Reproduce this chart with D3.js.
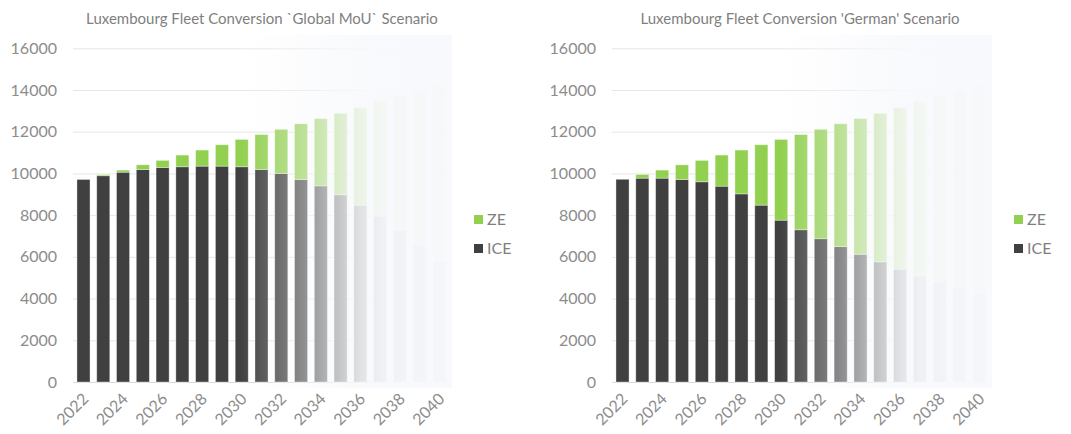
<!DOCTYPE html>
<html>
<head>
<meta charset="utf-8">
<script src="https://cdn.jsdelivr.net/npm/d3@7"></script>
<style>
  body { margin: 0; background: #fff; }
  svg { display: block; font-family: Lato, "Open Sans", sans-serif; }
</style>
</head>
<body>
<svg id="chart" width="1071" height="434"></svg>
<script>
// years and tick labels
const years = d3.range(2022, 2041).map(String);
const yearLabels = ['2022', '2024', '2026', '2028', '2030', '2032', '2034', '2036', '2038', '2040'];
const yTicks = [0, 2000, 4000, 6000, 8000, 10000, 12000, 14000, 16000];

// 'Global MoU' scenario
const mouICE = [9720, 9890, 10060, 10190, 10290, 10320, 10350, 10350, 10320, 10190,
                10000, 9710, 9405, 8975, 8480, 7950, 7280, 6610, 5780];
const mouZE = [10, 50, 100, 225, 335, 560, 770, 1025, 1310, 1675,
               2115, 2670, 3225, 3905, 4670, 5500, 6450, 7370, 8450];

// 'German' scenario
const gerICE = [9720, 9775, 9775, 9712, 9600, 9390, 9020, 8480, 7760, 7300,
                6870, 6490, 6125, 5760, 5410, 5090, 4820, 4550, 4260];
const gerZE = [0, 175, 385, 700, 1025, 1490, 2100, 2895, 3870, 4565,
               5245, 5890, 6505, 7120, 7740, 8360, 8910, 9430, 9970];

const seriesNames = ['ZE', 'ICE'];
const colors = { ICE: '#404040', ZE: '#92d050' };

// fade overlay: [px from fade start, opacity]
const fadeStops = [[0, 0], [60, 0.4], [100, 0.74], [120, 0.88], [140, 0.955], [170, 0.975], [211, 0.985]];

const svg = d3.select('#chart');
const defs = svg.append('defs');

function drawChart(opts) {
    const { x0, x1, title, titleX, ice, ze, id } = opts;
    const g = svg.append('g');

    const x = d3.scaleBand().domain(years).range([x0, x1]).paddingInner(0.34).paddingOuter(0.2);
    const y = d3.scaleLinear().domain([0, 16000]).range([382, 48.3]);

    // title
    g.append('text')
        .attr('x', titleX).attr('y', 24)
        .attr('text-anchor', 'middle')
        .attr('font-size', 15)
        .attr('fill', '#7f7f7f')
        .text(title);

    // gridlines + y labels
    const yAxis = g.append('g')
        .attr('transform', `translate(${x0},0)`)
        .call(d3.axisLeft(y).tickValues(yTicks).tickSize(-(x1 - x0)).tickPadding(16).tickFormat(d3.format('d')));
    yAxis.select('.domain').remove();
    yAxis.selectAll('.tick line').attr('stroke', d => d === 0 ? '#d9d9d9' : '#e6e6e6');
    yAxis.selectAll('.tick text')
        .attr('font-size', 16)
        .attr('font-family', 'Lato, sans-serif')
        .attr('fill', '#8c8c8c');

    // stacked bars
    const rows = years.map((yr, i) => ({ year: yr, ICE: ice[i], ZE: ze[i] }));
    const stack = d3.stack().keys(['ICE', 'ZE'])(rows);

    g.append('g').selectAll('g')
        .data(stack)
        .join('g')
        .attr('fill', d => colors[d.key])
        .selectAll('rect')
        .data(d => d)
        .join('rect')
        .attr('x', d => x(d.data.year))
        .attr('width', x.bandwidth())
        .attr('y', d => y(d[1]))
        .attr('height', d => Math.max(0, y(d[0]) - y(d[1])))
        .attr('stroke', 'rgba(255,255,255,0.45)')
        .attr('stroke-width', 0.8);

    // fading overlay on the later years
    const fadeStart = x0 + 168, fadeEnd = x1 + 2;
    const span = fadeEnd - fadeStart;
    const grad = defs.append('linearGradient')
        .attr('id', 'fade' + id)
        .attr('gradientUnits', 'userSpaceOnUse')
        .attr('x1', fadeStart).attr('x2', fadeEnd)
        .attr('y1', 0).attr('y2', 0);
    fadeStops.forEach(([px, a]) => {
        grad.append('stop')
            .attr('offset', Math.min(1, px / span))
            .attr('stop-color', '#f8f9fc')
            .attr('stop-opacity', a);
    });
    g.append('rect')
        .attr('x', fadeStart).attr('width', span)
        .attr('y', 35).attr('height', 353)
        .attr('fill', `url(#fade${id})`);

    // x labels
    yearLabels.forEach(yr => {
        const cx = x(yr) + x.bandwidth() / 2;
        g.append('text')
            .attr('transform', `translate(${cx + 6},${400}) rotate(-45)`)
            .attr('text-anchor', 'end')
            .attr('font-size', 16)
            .attr('fill', '#8c8c8c')
            .text(yr);
    });

    // legend
    const lg = g.append('g').attr('transform', `translate(${x1 + 24},0)`);
    seriesNames.forEach((name, i) => {
        const ly = 224 + i * 29;
        lg.append('rect')
            .attr('x', 0).attr('y', ly - 9)
            .attr('width', 9).attr('height', 9)
            .attr('fill', colors[name]);
        lg.append('text')
            .attr('x', 13).attr('y', ly + 1)
            .attr('font-size', 16)
            .attr('fill', '#7f7f7f')
            .text(name);
    });
}

drawChart({ id: 'L', x0: 73, x1: 450, titleX: 262, title: 'Luxembourg Fleet Conversion `Global MoU` Scenario', ice: mouICE, ze: mouZE });
drawChart({ id: 'R', x0: 612, x1: 990, titleX: 800, title: "Luxembourg Fleet Conversion 'German' Scenario", ice: gerICE, ze: gerZE });
</script>
</body>
</html>
